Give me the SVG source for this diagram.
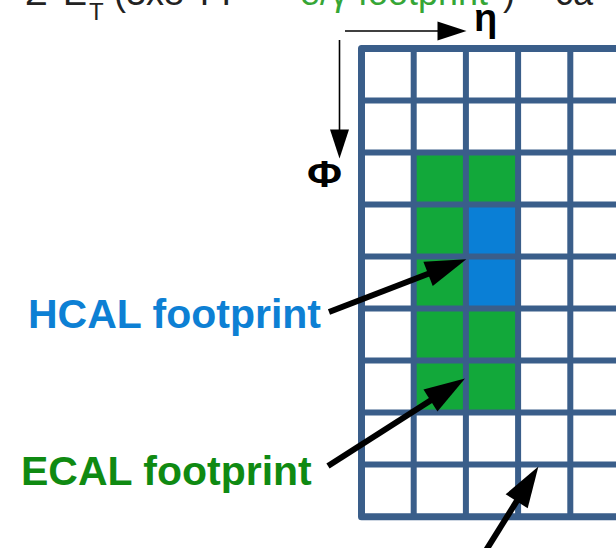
<svg xmlns="http://www.w3.org/2000/svg" width="616" height="548" viewBox="0 0 616 548">
  <style>
    .gl { stroke: #3a5e8a; stroke-width: 6; fill: none; }
    .gb { stroke: #3a5e8a; stroke-width: 7; fill: none; stroke-linejoin: round; }
    .lbl { font-family: "Liberation Sans", Arial, sans-serif; font-weight: bold; font-size: 41px; }
    .top { font-family: "Liberation Sans", Arial, sans-serif; font-size: 36px; fill: #222; }
    .ax { font-family: "Liberation Sans", Arial, sans-serif; font-weight: bold; fill: #000; }
    .thick { stroke: #000; stroke-width: 6; fill: none; marker-end: url(#headBig); }
    .thin { stroke: #000; stroke-width: 1.6; fill: none; marker-end: url(#headSmall); }
  </style>
  <defs>
    <marker id="headBig" markerUnits="userSpaceOnUse" markerWidth="42" markerHeight="26" refX="0" refY="13" orient="auto" overflow="visible">
      <path d="M-1,0 L40,13 L-1,26 Z" fill="#000"/>
    </marker>
    <marker id="headSmall" markerUnits="userSpaceOnUse" markerWidth="30" markerHeight="19" refX="0" refY="9.5" orient="auto" overflow="visible">
      <path d="M-0.5,0 L28.5,9.5 L-0.5,19 Z" fill="#000"/>
    </marker>
  </defs>
  <rect width="616" height="548" fill="#fff"/>

  <g id="title">
    <text class="top" x="25" y="4.5">Σ</text>
    <text class="top" x="63" y="4.5">E</text>
    <text class="top" x="89" y="20" style="font-size:24px">T</text>
    <text class="top" x="114" y="4.5">(3x8 TT –</text>
    <text class="top" x="300" y="4.5" style="fill:#36a636">e/γ footprint</text>
    <text class="top" x="503" y="4.5">) – ca</text>
  </g>

  <g id="grid">
    <rect x="414" y="152.5" width="104.3" height="260.1" fill="#12a83a"/>
    <rect x="466.2" y="204.6" width="52.1" height="104" fill="#0a7fd6"/>
    <path class="gl" d="M413.7,48.5 V516.7 M465.9,48.5 V516.7 M518.1,48.5 V516.7 M570.3,48.5 V516.7"/>
    <path class="gl" d="M361.5,100.5 H616 M361.5,152.5 H616 M361.5,204.6 H616 M361.5,256.6 H616 M361.5,308.6 H616 M361.5,360.6 H616 M361.5,412.6 H616 M361.5,464.6 H616"/>
    <path class="gb" d="M616,48.5 H361.5 V516.7 H616"/>
  </g>

  <g id="eta-axis">
    <text class="ax" x="474" y="31" style="font-size:38px">η</text>
  </g>
  <g id="phi-axis">
    <text class="ax" x="307" y="187" style="font-size:37px" textLength="35" lengthAdjust="spacingAndGlyphs">Φ</text>
  </g>
  <g id="hcal-label">
    <text class="lbl" x="28" y="328" fill="#0d80d4">HCAL footprint</text>
  </g>
  <g id="ecal-label">
    <text class="lbl" x="21" y="485" fill="#0f8a12">ECAL footprint</text>
  </g>

  <g id="connectors">
    <line class="thin" x1="345" y1="31" x2="438" y2="31"/>
    <line class="thin" x1="339.5" y1="40" x2="339.5" y2="130"/>
    <line class="thick" x1="329" y1="312" x2="429" y2="273.5"/>
    <line class="thick" x1="328" y1="466" x2="431.3" y2="400"/>
    <line class="thick" x1="480" y1="560" x2="517.2" y2="500.4"/>
  </g>
</svg>
